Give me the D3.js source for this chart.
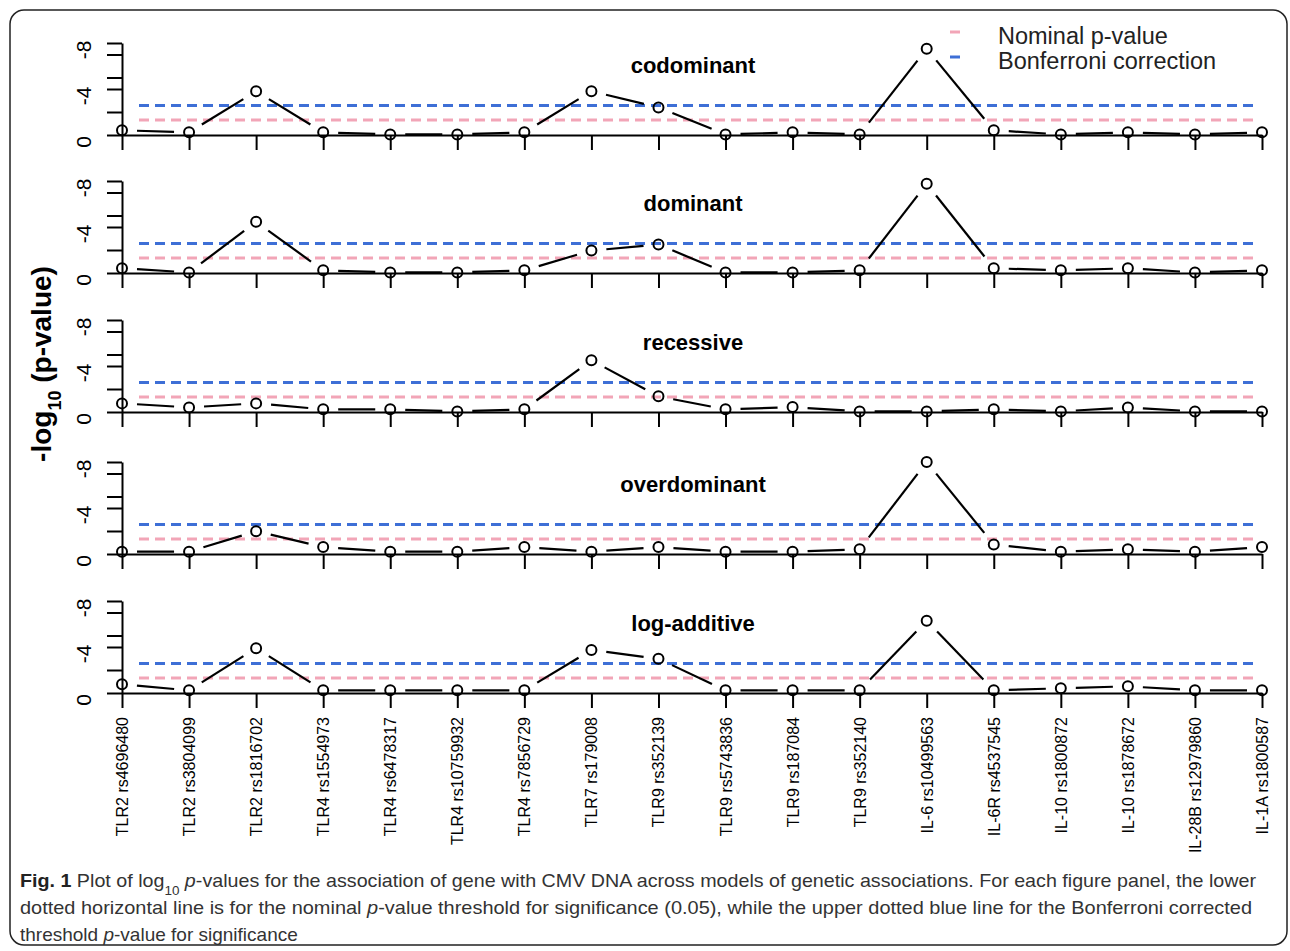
<!DOCTYPE html>
<html>
<head>
<meta charset="utf-8">
<script src="https://cdn.jsdelivr.net/npm/d3@7"></script>
<style>
  body { margin: 0; background: #fff; }
  svg { font-family: 'Liberation Sans', Arial, sans-serif; }
</style>
</head>
<body>
<script>
// SNP labels along the x axis
const genes = [
  'TLR2 rs4696480', 'TLR2 rs3804099', 'TLR2 rs1816702', 'TLR4 rs1554973',
  'TLR4 rs6478317', 'TLR4 rs10759932', 'TLR4 rs7856729', 'TLR7 rs179008',
  'TLR9 rs352139', 'TLR9 rs5743836', 'TLR9 rs187084', 'TLR9 rs352140',
  'IL-6 rs10499563', 'IL-6R rs4537545', 'IL-10 rs1800872', 'IL-10 rs1878672',
  'IL-28B rs12979860', 'IL-1A rs1800587'
];

const models = ['codominant', 'dominant', 'recessive', 'overdominant', 'log-additive'];

// -log10(p)
const codominant   = [0.41, 0.23, 3.80, 0.23, 0.05, 0.05, 0.23, 3.80, 2.40, 0.05, 0.23, 0.05, 7.50, 0.41, 0.05, 0.23, 0.05, 0.23];
const dominant     = [0.41, 0.05, 4.45, 0.23, 0.05, 0.05, 0.23, 1.95, 2.47, 0.05, 0.05, 0.23, 7.76, 0.41, 0.23, 0.41, 0.05, 0.23];
const recessive    = [0.75, 0.40, 0.75, 0.23, 0.23, 0.05, 0.23, 4.50, 1.36, 0.23, 0.43, 0.05, 0.05, 0.23, 0.05, 0.40, 0.05, 0.05];
const overdominant = [0.20, 0.20, 1.98, 0.61, 0.20, 0.20, 0.61, 0.20, 0.61, 0.20, 0.20, 0.41, 8.00, 0.82, 0.20, 0.41, 0.20, 0.61];
const logAdditive  = [0.76, 0.23, 3.90, 0.23, 0.23, 0.23, 0.23, 3.74, 2.98, 0.23, 0.23, 0.23, 6.28, 0.23, 0.41, 0.58, 0.23, 0.23];
const series = [codominant, dominant, recessive, overdominant, logAdditive];

// threshold lines
const nominalLine = 1.30;     // p = 0.05
const bonferroniLine = 2.56;  // 0.05 / 18

// y axis ticks and labels
const yTicks = [0, 2, 4, 5, 7, 8];
const yLabelValues = [0, 4, 8];
const yLabelText = ['0', '-4', '-8'];

const W = 1290, H = 951;
const panelBase = [135, 273, 412, 554, 693];
const panelH = 92;
const gap = 15; // type="b" gap around points

const svg = d3.select('body').append('svg')
  .attr('width', W)
  .attr('height', H);

// outer frame
svg.append('rect')
  .attr('x', 10).attr('y', 10)
  .attr('width', 1277).attr('height', 935)
  .attr('rx', 14).attr('ry', 14)
  .attr('fill', 'none')
  .attr('stroke', '#222')
  .attr('stroke-width', 1.5);

const x = d3.scalePoint()
  .domain(genes)
  .range([122, 1262]);

series.forEach((vals, m) => {
  const b = panelBase[m];
  const y = d3.scaleLinear().domain([0, 8]).range([b, b - panelH]);
  const g = svg.append('g');

  // threshold lines
  [[nominalLine, '#f2a5b7'], [bonferroniLine, '#3e6fd6']].forEach(([v, c]) => {
    g.append('line')
      .attr('x1', x(genes[0]) + 17).attr('x2', x(genes[genes.length - 1]) - 6)
      .attr('y1', y(v)).attr('y2', y(v))
      .attr('stroke', c)
      .attr('stroke-width', 3)
      .attr('stroke-dasharray', '10,6');
  });

  // y axis
  const ya = g.append('g')
    .attr('transform', `translate(${x(genes[0])},0)`)
    .call(d3.axisLeft(y).tickValues(yTicks).tickSize(15).tickSizeOuter(0).tickFormat(''));
  ya.selectAll('path, line').attr('stroke', '#000').attr('stroke-width', 2);

  g.selectAll('.ylab')
    .data(yLabelValues)
    .join('text')
    .attr('transform', (d) => `translate(91,${y(d) + 7}) rotate(-90)`)
    .attr('text-anchor', 'middle')
    .style('font-size', '21px')
    .text((d, i) => yLabelText[i]);

  // x axis
  const xa = g.append('g')
    .attr('transform', `translate(0,${b})`)
    .call(d3.axisBottom(x).tickSize(15).tickSizeOuter(0).tickFormat(''));
  xa.selectAll('path, line').attr('stroke', '#000').attr('stroke-width', 2);

  // segments with gaps (R type="b")
  const pts = vals.map((v, i) => [x(genes[i]), y(v)]);
  const segs = [];
  for (let i = 0; i < pts.length - 1; i++) {
    const [x0, y0] = pts[i], [x1, y1] = pts[i + 1];
    const len = Math.hypot(x1 - x0, y1 - y0);
    if (len <= 2 * gap) continue;
    const ux = (x1 - x0) / len, uy = (y1 - y0) / len;
    segs.push([x0 + ux * gap, y0 + uy * gap, x1 - ux * gap, y1 - uy * gap]);
  }
  g.selectAll('.seg')
    .data(segs)
    .join('line')
    .attr('x1', (d) => d[0]).attr('y1', (d) => d[1])
    .attr('x2', (d) => d[2]).attr('y2', (d) => d[3])
    .attr('stroke', '#000')
    .attr('stroke-width', 2.2);

  g.selectAll('circle')
    .data(vals)
    .join('circle')
    .attr('cx', (d, i) => x(genes[i]))
    .attr('cy', (d) => y(d))
    .attr('r', 5)
    .attr('fill', 'none')
    .attr('stroke', '#000')
    .attr('stroke-width', 2);

  // panel title
  g.append('text')
    .attr('x', 693)
    .attr('y', b - 62)
    .attr('text-anchor', 'middle')
    .style('font-size', '22px')
    .style('font-weight', 'bold')
    .text(models[m]);

  // gene labels under the bottom panel
  if (m === series.length - 1) {
    g.selectAll('.xlab')
      .data(genes)
      .join('text')
      .attr('transform', (d) => `translate(${x(d) + 6},717) rotate(-90)`)
      .attr('text-anchor', 'end')
      .style('font-size', '16px')
      .text((d) => d);
  }
});

// legend
const legend = [['Nominal p-value', '#f2a5b7'], ['Bonferroni correction', '#3e6fd6']];
legend.forEach(([label, c], i) => {
  svg.append('line')
    .attr('x1', 950).attr('x2', 960)
    .attr('y1', 32 + i * 25).attr('y2', 32 + i * 25)
    .attr('stroke', c)
    .attr('stroke-width', 3);
  svg.append('text')
    .attr('x', 998)
    .attr('y', 44 + i * 25)
    .style('font-size', '23.5px')
    .attr('fill', '#222')
    .text(label);
});

// y axis title
const yt = svg.append('text')
  .attr('transform', 'translate(51,364) rotate(-90)')
  .attr('text-anchor', 'middle')
  .style('font-size', '28px')
  .style('font-weight', 'bold');
yt.append('tspan').text('-log');
yt.append('tspan').attr('baseline-shift', 'sub').style('font-size', '18px').text('10');
yt.append('tspan').text(' (p-value)');

// caption
const cap = svg.append('g')
  .style('font-family', "'Liberation Sans', Arial, sans-serif")
  .style('font-size', '19px')
  .attr('fill', '#333');

const l1 = cap.append('text').attr('x', 20).attr('y', 887)
  .attr('textLength', 1236).attr('lengthAdjust', 'spacingAndGlyphs');
l1.append('tspan').style('font-weight', 'bold').attr('fill', '#222').text('Fig. 1');
l1.append('tspan').text(' Plot of log');
l1.append('tspan').attr('baseline-shift', 'sub').style('font-size', '13px').text('10');
l1.append('tspan').text(' ');
l1.append('tspan').style('font-style', 'italic').text('p');
l1.append('tspan').text('-values for the association of gene with CMV DNA across models of genetic associations. For each figure panel, the lower');

const l2 = cap.append('text').attr('x', 20).attr('y', 914)
  .attr('textLength', 1232).attr('lengthAdjust', 'spacingAndGlyphs');
l2.append('tspan').text('dotted horizontal line is for the nominal ');
l2.append('tspan').style('font-style', 'italic').text('p');
l2.append('tspan').text('-value threshold for significance (0.05), while the upper dotted blue line for the Bonferroni corrected');

const l3 = cap.append('text').attr('x', 20).attr('y', 941);
l3.append('tspan').text('threshold ');
l3.append('tspan').style('font-style', 'italic').text('p');
l3.append('tspan').text('-value for significance');
</script>
</body>
</html>
